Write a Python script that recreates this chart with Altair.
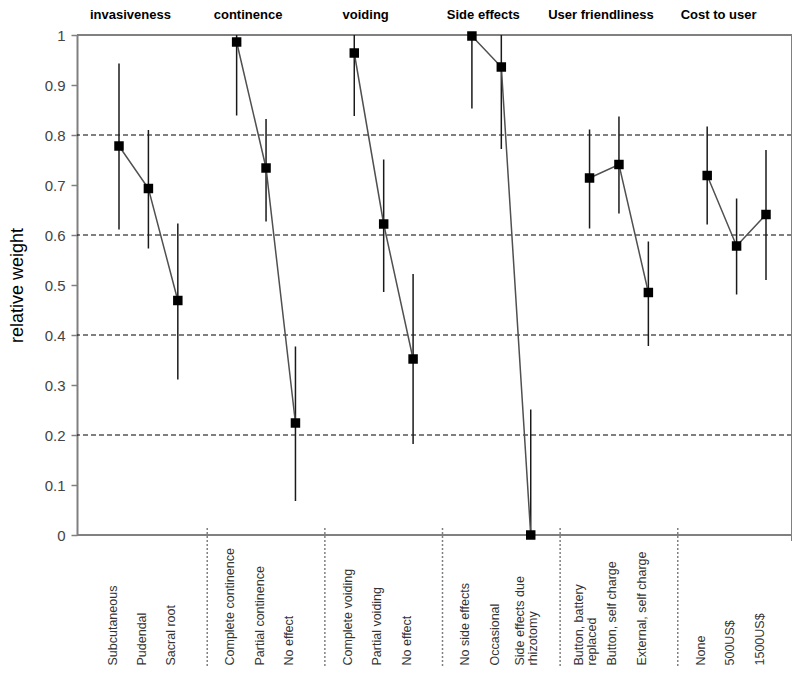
import altair as alt
import pandas as pd

GROUPS = ["invasiveness", "continence", "voiding", "Side effects",
          "User friendliness", "Cost to user"]
CATEGORIES = [
    ["Subcutaneous", "Pudendal", "Sacral root"],
    ["Complete continence", "Partial continence", "No effect"],
    ["Complete voiding", "Partial voiding", "No effect "],
    ["No side effects", "Occasional", "Side effects due\nrhizotomy"],
    ["Button, battery\nreplaced", "Button, self charge", "External, self charge"],
    ["None", "500US$", "1500US$"],
]
WEIGHT = [0.778, 0.693, 0.469,
          0.986, 0.734, 0.224,
          0.964, 0.622, 0.352,
          0.998, 0.936, 0.000,
          0.714, 0.741, 0.485,
          0.719, 0.578, 0.641]
LOW = [0.611, 0.573, 0.311,
       0.839, 0.627, 0.068,
       0.838, 0.486, 0.182,
       0.853, 0.772, 0.000,
       0.613, 0.643, 0.378,
       0.621, 0.481, 0.510]
HIGH = [0.943, 0.810, 0.623,
        1.000, 0.832, 0.377,
        1.000, 0.751, 0.522,
        1.000, 1.000, 0.251,
        0.811, 0.837, 0.587,
        0.817, 0.673, 0.770]
Y_TICKS = [0, 0.1, 0.2, 0.3, 0.4, 0.5, 0.6, 0.7, 0.8, 0.9, 1]
GRID_LINES = [0.2, 0.4, 0.6, 0.8]
SPACERS = ["_1", "_2", "_3", "_4", "_5"]

# domain with spacer slots between groups
domain = []
for gi, cats in enumerate(CATEGORIES):
    domain += cats
    if gi < len(SPACERS):
        domain.append(SPACERS[gi])

rows = []
idx = 0
for gi, cats in enumerate(CATEGORIES):
    for c in cats:
        rows.append({"cat": c, "group": GROUPS[gi], "idx": idx,
                     "w": WEIGHT[idx], "lo": LOW[idx], "hi": HIGH[idx]})
        idx += 1
df = pd.DataFrame(rows)
titles_df = pd.DataFrame({"cat": [c[1] for c in CATEGORIES], "label": GROUPS})
sep_df = pd.DataFrame({"cat": SPACERS})
grid_df = pd.DataFrame({"w": GRID_LINES})
frame_df = pd.DataFrame({"k": [0]})

FONT = "Liberation Sans"
FRAME = "#808080"
x_scale = alt.Scale(type="point", domain=domain, range=[42, 689], padding=0)
y_scale = alt.Scale(domain=[0, 1], nice=False)

x_axis = alt.Axis(
    labelAngle=270, labelAlign="left", labelBaseline="middle",
    labelPadding=130, ticks=False, tickSize=0, domain=False,
    labelExpr="slice(datum.label,0,1) == '_' ? '' : split(datum.label, '\\n')",
    labelFont=FONT, labelFontSize=12.5, labelColor="#333333",
    labelLineHeight=13,
    labelOffset={"expr": "length(split(datum.value, '\\n')) > 1 ? -11 : -7"},
    labelOverlap=False, labelLimit=300,
    grid=False, title="",
)
y_axis = alt.Axis(
    values=Y_TICKS, format="~g", grid=False,
    domainColor=FRAME, domainWidth=2,
    tickColor=FRAME, tickSize=6, tickWidth=1.5,
    labelFont=FONT, labelFontSize=15, labelColor="#444444", labelPadding=6,
    title="relative weight", titleFont=FONT, titleFontSize=18,
    titleFontWeight="normal", titleColor="black",
    titleX=-60, titleY=250, titleAngle=270, titleAlign="center",
    titleBaseline="middle",
)

X = alt.X("cat:N", scale=x_scale, axis=x_axis)
Y = alt.Y("w:Q", scale=y_scale, axis=y_axis)

base = alt.Chart(df)

grid = alt.Chart(grid_df).mark_rule(strokeDash=[5, 3], color="black", strokeWidth=1).encode(
    y=Y
)
frame_top = alt.Chart(frame_df).mark_rule(color=FRAME, strokeWidth=2).encode(
    x=alt.value(0), x2=alt.value(715), y=alt.value(0)
)
frame_bottom = alt.Chart(frame_df).mark_rule(color=FRAME, strokeWidth=2).encode(
    x=alt.value(0), x2=alt.value(715), y=alt.value(500)
)
frame_right = alt.Chart(frame_df).mark_rule(color=FRAME, strokeWidth=2).encode(
    x=alt.value(715), y=alt.value(0), y2=alt.value(506)
)
seps = alt.Chart(sep_df).mark_rule(strokeDash=[2, 2], color=FRAME, strokeWidth=1.5).encode(
    x=X, y=alt.value(493), y2=alt.value(632)
)
err = base.mark_rule(color="#1a1a1a", strokeWidth=1.5).encode(
    x=X, y=alt.Y("lo:Q", scale=y_scale, axis=y_axis), y2="hi:Q"
)
line = base.mark_line(color="#505050", strokeWidth=1.5).encode(
    x=X, y=Y, detail="group:N", order="idx:Q"
)
pts = base.mark_square(size=90, color="black", opacity=1, filled=True).encode(x=X, y=Y)
titles = alt.Chart(titles_df).mark_text(
    font=FONT, fontSize=13, fontWeight="bold", color="black", dx=-18, baseline="middle"
).encode(x=X, y=alt.value(-20), text="label:N")

chart = alt.layer(grid, frame_top, frame_bottom, frame_right, seps, err, line, pts, titles).properties(
    width=715, height=500,
    autosize=alt.AutoSizeParams(type="none"),
    padding={"left": 69, "top": 27, "right": 0, "bottom": 146},
    background="white",
).configure_view(strokeWidth=0)

chart.save("out.html", embed_options={"renderer": "svg", "actions": False})
